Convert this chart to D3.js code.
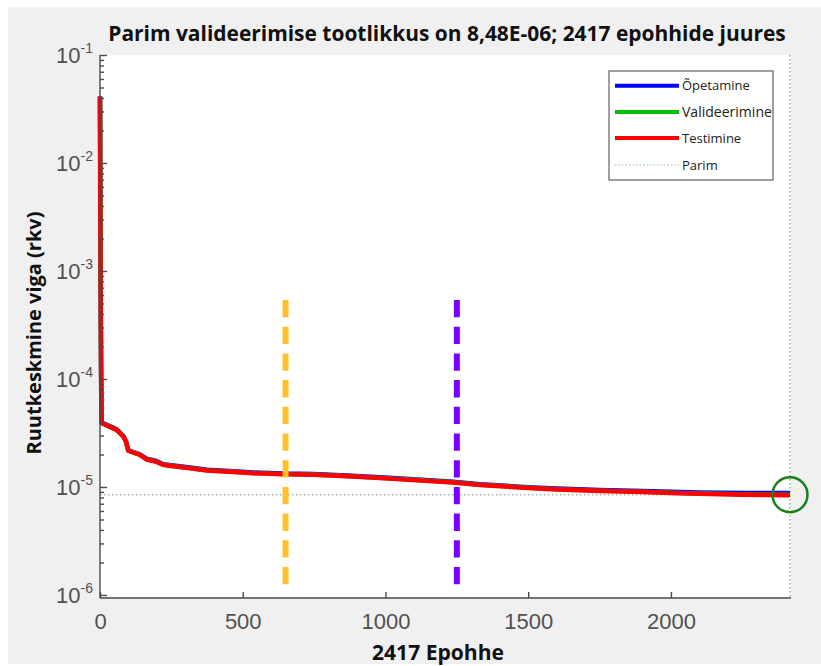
<!DOCTYPE html>
<html>
<head>
<meta charset="utf-8">
<script src="https://cdn.jsdelivr.net/npm/d3@7"></script>
<style>
  html, body { margin: 0; padding: 0; background: #ffffff; }
  svg { display: block; }
</style>
</head>
<body>
<svg id="chart" width="821" height="666"></svg>
<script>
// ---------------- DATA ----------------
const titleText = "Parim valideerimise tootlikkus on 8,48E-06; 2417 epohhide juures";
const xLabelText = "2417 Epohhe";
const yLabelText = "Ruutkeskmine viga (rkv)";

const epochs = [0, 1, 2, 3, 4, 5, 6, 20, 40, 58, 70, 82, 91, 99, 117, 140, 163, 198, 222, 257,
  315, 374, 467, 537, 642, 747, 864, 981, 1097, 1237, 1331, 1420, 1500, 1600, 1750, 1900,
  2000, 2100, 2250, 2417];

const training = [4.15e-2, 6.1e-3, 1.22e-3, 3.05e-4, 1.02e-4, 5.6e-5, 3.96e-5, 3.81e-5, 3.61e-5,
  3.42e-5, 3.2e-5, 2.97e-5, 2.67e-5, 2.2e-5, 2.11e-5, 2.01e-5, 1.83e-5, 1.74e-5, 1.625e-5,
  1.585e-5, 1.515e-5, 1.443e-5, 1.403e-5, 1.362e-5, 1.332e-5, 1.322e-5, 1.281e-5, 1.23e-5, 1.18e-5,
  1.118e-5, 1.062e-5, 1.027e-5, 9.97e-6, 9.68e-6, 9.39e-6, 9.2e-6, 9.02e-6, 8.9e-6, 8.82e-6, 8.8e-6];

const validation = [4.1e-2, 6.0e-3, 1.2e-3, 3.0e-4, 1.0e-4, 5.52e-5, 3.91e-5, 3.76e-5, 3.56e-5,
  3.38e-5, 3.16e-5, 2.93e-5, 2.64e-5, 2.18e-5, 2.09e-5, 1.99e-5, 1.81e-5, 1.72e-5, 1.61e-5,
  1.565e-5, 1.495e-5, 1.425e-5, 1.385e-5, 1.345e-5, 1.315e-5, 1.305e-5, 1.265e-5, 1.215e-5, 1.165e-5,
  1.105e-5, 1.05e-5, 1.015e-5, 9.85e-6, 9.55e-6, 9.25e-6, 9.05e-6, 8.85e-6, 8.7e-6, 8.56e-6, 8.48e-6];

const testing = [4.1e-2, 6.0e-3, 1.2e-3, 3.0e-4, 1.0e-4, 5.5e-5, 3.9e-5, 3.75e-5, 3.55e-5,
  3.37e-5, 3.15e-5, 2.92e-5, 2.63e-5, 2.17e-5, 2.08e-5, 1.98e-5, 1.80e-5, 1.71e-5, 1.60e-5,
  1.56e-5, 1.49e-5, 1.42e-5, 1.38e-5, 1.34e-5, 1.31e-5, 1.30e-5, 1.26e-5, 1.21e-5, 1.16e-5,
  1.10e-5, 1.045e-5, 1.01e-5, 9.8e-6, 9.5e-6, 9.2e-6, 9.0e-6, 8.8e-6, 8.65e-6, 8.5e-6, 8.4e-6];

const bestEpoch = 2417;
const bestValue = 8.48e-6;

const xTicks = [0, 500, 1000, 1500, 2000];
const yTickExponents = [-6, -5, -4, -3, -2, -1];

// vertical dashed annotation markers (epoch, value range)
const markerEpochs = [650, 1250];
const markerColors = ["#ffc125", "#7a00ff"];
const markerRange = [5.39e-4, 1.256e-6];

const legendNames = ["Õpetamine", "Valideerimine", "Testimine", "Parim"];
const seriesColors = ["#0000ff", "#00c000", "#ff0000"];

// ---------------- LAYOUT ----------------
const svg = d3.select("#chart");
const pLeft = 100, pRight = 791, pTop = 55, pBottom = 598;

const x = d3.scaleLinear().domain([0, 2417]).range([pLeft, 790]);
const y = d3.scaleLog().domain([Math.pow(10, -6.028), 0.1]).range([pBottom, pTop]);

// figure background
svg.append("rect").attr("x", 8).attr("y", 7).attr("width", 813).attr("height", 657)
  .attr("fill", "#f0f0f0");
// plot area
svg.append("rect").attr("x", pLeft).attr("y", pTop).attr("width", pRight - pLeft).attr("height", pBottom - pTop)
  .attr("fill", "#ffffff");

function fitText(sel, width) {
  const w = sel.node().getComputedTextLength();
  const fs = parseFloat(sel.attr("font-size"));
  sel.attr("font-size", fs * width / w);
}

// title
const title = svg.append("text").attr("x", 447).attr("y", 41).attr("text-anchor", "middle")
  .attr("font-family", "Open Sans").attr("font-weight", 700).attr("font-size", 19)
  .attr("fill", "#111").text(titleText);
fitText(title, 678);

// best lines
svg.append("line").attr("x1", x(0)).attr("x2", x(bestEpoch)).attr("y1", y(bestValue)).attr("y2", y(bestValue))
  .attr("stroke", "#a8b8a8").attr("stroke-width", 1.5).attr("stroke-dasharray", "1.5,2.5");
svg.append("line").attr("x1", x(bestEpoch)).attr("x2", x(bestEpoch)).attr("y1", pTop).attr("y2", pBottom)
  .attr("stroke", "#80c080").attr("stroke-width", 1.5).attr("stroke-dasharray", "1.5,2.5");

// series lines
const seriesData = [training, validation, testing];
const line = d3.line().x((d, i) => x(epochs[i])).y(d => y(d));
seriesData.forEach((s, k) => {
  svg.append("path").datum(s).attr("d", line).attr("fill", "none")
    .attr("stroke", seriesColors[k]).attr("stroke-width", k === 2 ? 4.6 : 4.4)
    .attr("stroke-linejoin", "round").attr("stroke-linecap", "butt");
});

// dashed markers
markerEpochs.forEach((e, i) => {
  svg.append("line").attr("x1", x(e)).attr("x2", x(e))
    .attr("y1", y(markerRange[0])).attr("y2", y(markerRange[1]))
    .attr("stroke", markerColors[i]).attr("stroke-width", 6)
    .attr("stroke-dasharray", "17.3,9.4");
});

// best circle
svg.append("circle").attr("cx", x(bestEpoch)).attr("cy", y(bestValue)).attr("r", 17.5)
  .attr("fill", "none").attr("stroke", "#1a801a").attr("stroke-width", 2.5);

// axes
const axisColor = "#4a4a4a";
const gx = svg.append("g").attr("class", "ax").attr("transform", `translate(0,${pBottom})`);
gx.call(d3.axisBottom(x).tickValues(xTicks).tickSize(-6).tickFormat(d3.format("d")).tickPadding(10));
gx.select(".domain").attr("d", `M${pLeft},0H${pRight}`);
gx.selectAll("text").attr("font-family", "Liberation Sans").attr("font-size", 22)
  .attr("fill", "#505050").attr("dy", "0.95em").attr("y", 10);

const gy = svg.append("g").attr("class", "ax").attr("transform", `translate(${pLeft},0)`);
const minorTicks = [];
yTickExponents.forEach(ex => {
  if (ex < -1) for (let m = 2; m <= 9; m++) minorTicks.push(m * Math.pow(10, ex));
});
gy.call(d3.axisLeft(y).tickValues(minorTicks).tickSize(-4).tickFormat(""));
gy.select(".domain").attr("d", `M0,${pTop}V${pBottom}`);
const gyMajor = svg.append("g").attr("class", "ax").attr("transform", `translate(${pLeft},0)`);
gyMajor.call(d3.axisLeft(y).tickValues(yTickExponents.map(e => Math.pow(10, e))).tickSize(-7).tickFormat(""));
gyMajor.select(".domain").remove();
svg.selectAll("g.ax path, g.ax line").attr("stroke", axisColor).attr("stroke-width", 1.4);

// y tick labels 10^e
yTickExponents.forEach(ex => {
  const t = svg.append("text").attr("x", 93).attr("y", y(Math.pow(10, ex)) + 8)
    .attr("text-anchor", "end").attr("font-family", "Liberation Sans").attr("fill", "#505050");
  t.append("tspan").attr("font-size", 22).text("10");
  t.append("tspan").attr("font-size", 14).attr("dy", -10).text(String(ex));
});

// axis labels
const xl = svg.append("text").attr("x", 438).attr("y", 660).attr("text-anchor", "middle")
  .attr("font-family", "Open Sans").attr("font-weight", 700).attr("font-size", 19)
  .attr("fill", "#111").text(xLabelText);
fitText(xl, 132);

const yl = svg.append("text").attr("transform", `translate(41,333) rotate(-90)`).attr("text-anchor", "middle")
  .attr("font-family", "Open Sans").attr("font-weight", 700).attr("font-size", 19)
  .attr("fill", "#111").text(yLabelText);
fitText(yl, 243);

// legend
const lg = svg.append("g");
lg.append("rect").attr("x", 609).attr("y", 71).attr("width", 164).attr("height", 109)
  .attr("fill", "#ffffff").attr("stroke", "#606060").attr("stroke-width", 1.2);
const legY = [85.7, 112, 138, 165];
legendNames.forEach((name, i) => {
  const l = lg.append("line").attr("x1", 615).attr("x2", 679).attr("y1", legY[i]).attr("y2", legY[i]);
  if (i < 3) l.attr("stroke", seriesColors[i]).attr("stroke-width", 4);
  else l.attr("stroke", "#90c890").attr("stroke-width", 1.2).attr("stroke-dasharray", "1.5,2");
  const t = lg.append("text").attr("x", 682).attr("y", legY[i]).attr("dy", "0.35em")
    .attr("font-family", "Open Sans").attr("font-size", 13).attr("fill", "#222").text(name);
  if (i === 1) fitText(t, 90);
});
</script>
</body>
</html>
